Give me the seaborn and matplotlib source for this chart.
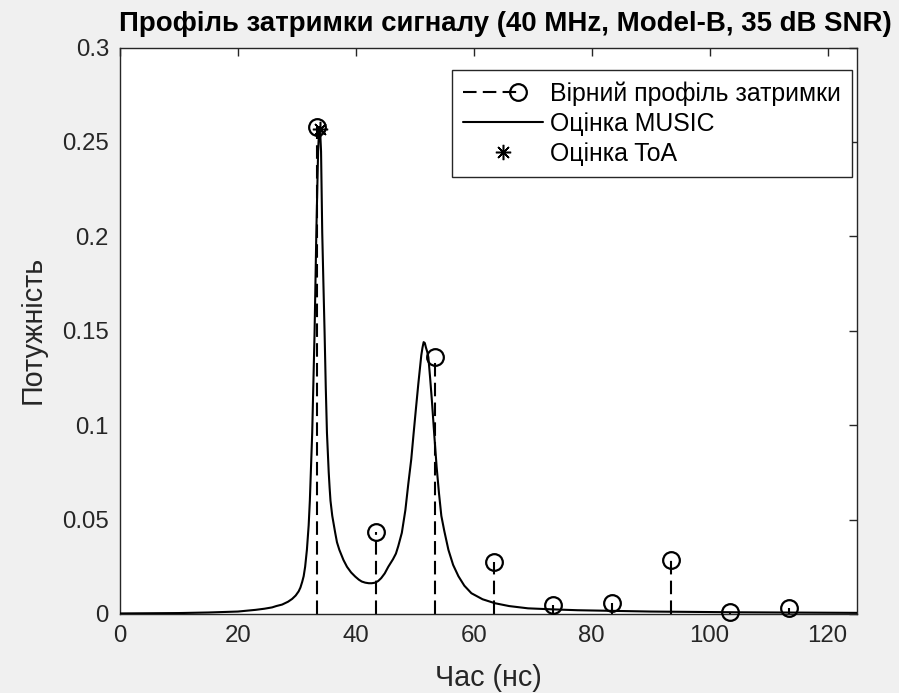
import numpy as np
import matplotlib
matplotlib.use("Agg")
import matplotlib.pyplot as plt
import seaborn as sns
from matplotlib.lines import Line2D
from matplotlib.legend_handler import HandlerLine2D

# ---------------- data ----------------
stem_t = [33.4, 43.4, 53.4, 63.4, 73.4, 83.4, 93.4, 103.4, 113.4]
stem_p = [0.258, 0.0436, 0.136, 0.0278, 0.0048, 0.0057, 0.0287, 0.0012, 0.0033]

curve_t = [0, 10, 15, 20, 23, 24.5, 25.8, 26.5, 27.5, 28.5, 29.2, 29.8, 30.3,
           30.6, 30.9, 31.15, 31.4, 31.7, 32.0, 32.2, 32.6, 33.0, 33.3, 33.6,
           33.75, 33.85, 33.95, 34.1, 34.3, 34.5, 34.7, 34.9, 35.1, 35.4,
           35.55, 35.7, 36.0, 36.5, 36.8, 37.2, 37.9, 38.5, 39.2, 39.9, 40.5,
           41.0, 41.6, 42.2, 42.7, 43.3, 43.8, 44.3, 44.9, 45.5, 45.9, 46.3,
           46.8, 47.2, 47.8, 48.4, 48.9, 49.4, 49.8, 50.2, 50.6, 51.1, 51.3,
           51.5, 51.7, 51.9, 52.1, 52.3, 52.6, 52.9, 53.3, 53.7, 54.1, 54.5,
           55.0, 55.7, 56.5, 57.4, 58.4, 59.6, 61.5, 63.6, 66, 69.2, 73, 77.6,
           90, 105, 125]
curve_p = [0.0003, 0.0005, 0.0008, 0.0013, 0.0022, 0.0028, 0.0035, 0.0042,
           0.005, 0.0065, 0.008, 0.0098, 0.012, 0.014, 0.017, 0.020, 0.025,
           0.034, 0.047, 0.060, 0.096, 0.149, 0.202, 0.245, 0.2555, 0.258,
           0.2555, 0.245, 0.202, 0.175, 0.149, 0.12, 0.096, 0.075, 0.067,
           0.060, 0.052, 0.043, 0.038, 0.034, 0.0286, 0.025, 0.022, 0.0198,
           0.0182, 0.0172, 0.0166, 0.0163, 0.0163, 0.0166, 0.0175, 0.019,
           0.0215, 0.025, 0.027, 0.029, 0.032, 0.036, 0.043, 0.055, 0.069,
           0.082, 0.0957, 0.109, 0.122, 0.137, 0.141, 0.144, 0.1435, 0.141,
           0.139, 0.136, 0.125, 0.113, 0.095, 0.078, 0.064, 0.052, 0.044,
           0.034, 0.026, 0.020, 0.015, 0.011, 0.0078, 0.0057, 0.0042, 0.003,
           0.0025, 0.002, 0.0013, 0.0009, 0.0006]

toa_t = [34.0]
toa_p = [0.257]

x_ticks = [0, 20, 40, 60, 80, 100, 120]
y_ticks = [0, 0.05, 0.1, 0.15, 0.2, 0.25, 0.3]
y_tick_labels = ["0", "0.05", "0.1", "0.15", "0.2", "0.25", "0.3"]

title = "Профіль затримки сигналу (40 MHz, Model-B, 35 dB SNR)"
xlabel = "Час (нс)"
ylabel = "Потужність"
legend_labels = ["Вірний профіль затримки", "Оцінка MUSIC", "Оцінка ToA"]

# ---------------- style ----------------
sns.set_theme(style="white")
plt.rcParams["font.family"] = ["Liberation Sans", "DejaVu Sans"]
GRAY = "#262626"

W, H = 899, 693
fig = plt.figure(figsize=(W / 100, H / 100), dpi=100, facecolor="#f0f0f0")
L, R, T, B = 120, 857, 47.6, 614
ax = fig.add_axes([L / W, 1 - B / H, (R - L) / W, (B - T) / H])
ax.set_facecolor("white")

DASH = (0, (6.5, 3))

# stems
ax.vlines(stem_t, 0, stem_p, colors="black", linestyles=DASH, lw=1.5, zorder=2)
# MUSIC curve
sns.lineplot(x=curve_t, y=curve_p, color="black", lw=1.5, ax=ax,
             sort=False, estimator=None, legend=False, zorder=3)
# stem markers
ax.plot(stem_t, stem_p, ls="none", marker="o", mfc="none", mec="black",
        ms=12, mew=1.6, clip_on=False, zorder=4)
# ToA
ax.plot(toa_t, toa_p, ls="none", marker=(8, 2, 0), color="black", ms=11,
        mew=1.1, clip_on=False, zorder=5)

ax.set_xlim(0, 125)
ax.set_ylim(0, 0.3)
ax.set_xticks(x_ticks)
ax.set_xticklabels([str(v) for v in x_ticks])
ax.set_yticks(y_ticks)
ax.set_yticklabels(y_tick_labels)
ax.tick_params(direction="in", top=True, right=True, length=6, width=1,
               color=GRAY, labelcolor=GRAY, labelsize=17.3, pad=8)
for s in ax.spines.values():
    s.set_color(GRAY)
    s.set_linewidth(1.0)
    s.set_visible(True)
ax.set_xlabel("")
ax.set_ylabel("")


class RightMarkerHandler(HandlerLine2D):
    def create_artists(self, legend, orig_handle, xdescent, ydescent, width,
                       height, fontsize, trans):
        y = (height - ydescent) / 2
        xm = -xdescent + 0.69 * width
        line = Line2D([-xdescent, xm], [y, y])
        self.update_prop(line, orig_handle, legend)
        line.set_marker("None")
        mk = Line2D([xm], [y])
        self.update_prop(mk, orig_handle, legend)
        mk.set_linestyle("None")
        line.set_transform(trans)
        mk.set_transform(trans)
        return [line, mk]


h1 = Line2D([], [], color="black", ls=DASH, lw=1.5, marker="o", mfc="none",
            mec="black", ms=12, mew=1.6)
h2 = Line2D([], [], color="black", lw=1.5)
h3 = Line2D([], [], color="black", ls="none", marker=(8, 2, 0), ms=11, mew=1.1)
leg = ax.legend(handles=[h1, h2, h3], labels=legend_labels, loc="upper right",
                bbox_to_anchor=((852 - L) / (R - L), (B - 70) / (B - T)),
                borderaxespad=0, fontsize=17.9, handlelength=3.2,
                handletextpad=0.28, labelspacing=0.24, borderpad=0.45,
                fancybox=False, framealpha=1, edgecolor=GRAY,
                handler_map={h1: RightMarkerHandler()})
leg.get_frame().set_linewidth(1.0)
for t in leg.get_texts():
    t.set_color("black")

fig.text(505 / W, 1 - 31 / H, title, ha="center", va="baseline",
         fontsize=19.9, fontweight="bold", color="black")
fig.text(488 / W, 1 - 686 / H, xlabel, ha="center", va="baseline",
         fontsize=20.7, color=GRAY)
fig.text(33 / W, 1 - 330 / H, ylabel, ha="center", va="center",
         rotation=90, fontsize=20.7, color=GRAY)

fig.savefig("out.png", dpi=100, facecolor=fig.get_facecolor())
